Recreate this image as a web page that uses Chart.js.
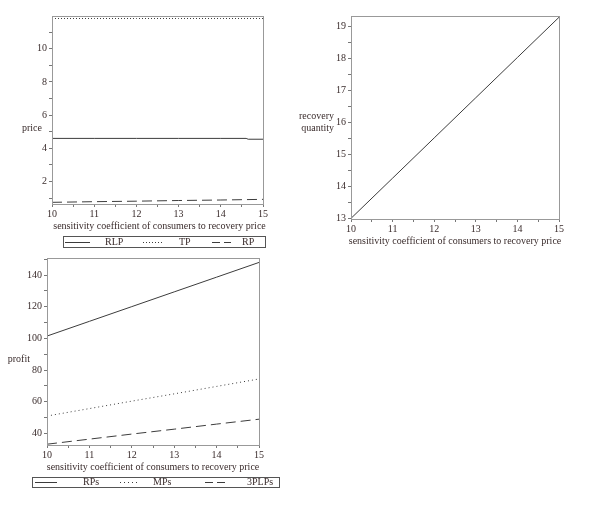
<!DOCTYPE html>
<html>
<head>
<meta charset="utf-8">
<script src="https://cdn.jsdelivr.net/npm/chart.js@4"></script>
<style>
body { margin: 0; background: #fff; width: 608px; height: 505px; position: relative; overflow: hidden; }
canvas { position: absolute; }
</style>
</head>
<body>
<canvas id="c1" width="290" height="250" style="left:0;top:0"></canvas>
<canvas id="c2" width="300" height="250" style="left:290px;top:0"></canvas>
<canvas id="c3" width="290" height="250" style="left:0;top:250px"></canvas>
<script>
// x values (sensitivity coefficient)
const xs = [10, 11, 12, 13, 14, 15];

// chart 1: prices
const rlpX = [10, 11, 12, 13, 14, 14.6, 14.65, 15];
const rlp = [4.6, 4.6, 4.6, 4.6, 4.6, 4.6, 4.55, 4.55];
const tp = [11.82, 11.82, 11.82, 11.82, 11.82, 11.82];
const rp = [0.75, 0.79, 0.82, 0.86, 0.89, 0.93];

// chart 2: recovery quantity
const quantity = [13.0, 14.26, 15.52, 16.78, 18.04, 19.3];

// chart 3: profits
const rps = [101.5, 110.8, 120.1, 129.4, 138.7, 148.0];
const mps = [51.0, 55.7, 60.4, 65.0, 69.7, 74.4];
const tplps = [33.2, 36.4, 39.6, 42.7, 45.9, 49.0];

const xTitle = 'sensitivity coefficient of consumers to recovery price';
const textColor = '#3a2c2c';
const lineColor = '#3c3c3c';
const FONT = '10px "Liberation Serif"';

Chart.defaults.font.family = '"Liberation Serif"';
Chart.defaults.font.size = 10;
Chart.defaults.color = textColor;

function pts(x, y) {
    return y.map((v, i) => ({ x: x[i], y: v }));
}

// frame, titles and boxed legend
const extras = {
    id: 'extras',
    afterDraw(chart, args, opts) {
        const ctx = chart.ctx;
        const a = chart.chartArea;
        ctx.save();
        ctx.strokeStyle = '#999';
        ctx.lineWidth = 1;
        ctx.strokeRect(Math.round(a.left) + 0.5, Math.round(a.top) + 0.5, Math.round(a.right - a.left), Math.round(a.bottom - a.top));

        ctx.fillStyle = textColor;
        ctx.font = FONT;
        ctx.textBaseline = 'middle';
        ctx.textAlign = 'center';
        ctx.fillText(xTitle, (a.left + a.right) / 2 + opts.xTitleDx, opts.xTitleY);

        ctx.textAlign = 'right';
        opts.yTitle.forEach((t, i) => ctx.fillText(t, opts.yTitleX, opts.yTitleY + i * 12));

        if (opts.legend) {
            const L = opts.legend;
            ctx.strokeStyle = '#555';
            ctx.strokeRect(L.x + 0.5, L.y + 0.5, L.w, L.h);
            const cy = Math.round(L.y + L.h / 2) + 0.5;
            chart.data.datasets.forEach((ds, i) => {
                const it = L.items[i];
                ctx.strokeStyle = lineColor;
                ctx.setLineDash(ds.borderDash ? (ds.borderDash[0] > 2 ? [8, 4] : ds.borderDash) : []);
                ctx.beginPath();
                ctx.moveTo(it[0], cy);
                ctx.lineTo(it[1], cy);
                ctx.stroke();
                ctx.setLineDash([]);
                ctx.textAlign = 'left';
                ctx.fillText(ds.label, it[2], cy);
            });
        }
        ctx.restore();
    }
};

function makeChart(id, datasets, cfg) {
    return new Chart(document.getElementById(id), {
        type: 'line',
        data: { datasets: datasets },
        options: {
            responsive: false,
            animation: false,
            layout: { padding: cfg.padding },
            elements: { point: { radius: 0 }, line: { borderWidth: 1, tension: 0 } },
            plugins: {
                legend: { display: false },
                tooltip: { enabled: false },
                extras: cfg.extras
            },
            scales: {
                x: {
                    type: 'linear',
                    min: 10,
                    max: 15,
                    afterFit: s => { s.height = cfg.xHeight; },
                    grid: { drawOnChartArea: false, tickLength: 3, tickColor: '#777' },
                    border: { color: '#999' },
                    ticks: {
                        stepSize: 0.5,
                        autoSkip: false,
                        maxRotation: 0,
                        padding: 1,
                        includeBounds: false,
                        callback: v => Number.isInteger(v) ? v : ''
                    }
                },
                y: {
                    type: 'linear',
                    min: cfg.yMin,
                    max: cfg.yMax,
                    afterFit: s => { s.width = cfg.yWidth; },
                    grid: { drawOnChartArea: false, tickLength: 3, tickColor: '#777' },
                    border: { color: '#999' },
                    ticks: {
                        stepSize: cfg.yStep,
                        autoSkip: false,
                        padding: 2,
                        includeBounds: false,
                        callback: v => (Math.round(v / cfg.yLabelStep * 1000) % 1000 === 0) ? v : ''
                    }
                }
            }
        },
        plugins: [extras]
    });
}

makeChart('c1', [
    { label: 'RLP', data: pts(rlpX, rlp), borderColor: lineColor },
    { label: 'TP', data: pts(xs, tp), borderColor: lineColor, borderDash: [1, 2] },
    { label: 'RP', data: pts(xs, rp), borderColor: lineColor, borderDash: [10, 5] }
], {
    padding: { left: 0, right: 27, top: 16, bottom: 0 },
    xHeight: 46, yWidth: 52,
    yMin: 0.65, yMax: 11.97, yStep: 1, yLabelStep: 2,
    extras: {
        xTitleDx: 2, xTitleY: 226,
        yTitle: ['price'], yTitleX: 42, yTitleY: 128,
        legend: { x: 63, y: 236, w: 202, h: 11, items: [[65, 90, 105], [143, 163, 179], [212, 231, 242]] }
    }
});

makeChart('c2', [
    { label: 'recovery quantity', data: pts(xs, quantity), borderColor: lineColor }
], {
    padding: { left: 0, right: 31, top: 16, bottom: 0 },
    xHeight: 31, yWidth: 61,
    yMin: 12.98, yMax: 19.34, yStep: 0.5, yLabelStep: 1,
    extras: {
        xTitleDx: 0, xTitleY: 241,
        yTitle: ['recovery', 'quantity'], yTitleX: 44, yTitleY: 116
    }
});

makeChart('c3', [
    { label: 'RPs', data: pts(xs, rps), borderColor: lineColor },
    { label: 'MPs', data: pts(xs, mps), borderColor: lineColor, borderDash: [1, 3] },
    { label: '3PLPs', data: pts(xs, tplps), borderColor: lineColor, borderDash: [10, 5] }
], {
    padding: { left: 0, right: 31, top: 6, bottom: 0 },
    xHeight: 55, yWidth: 47,
    yMin: 32.7, yMax: 150.8, yStep: 10, yLabelStep: 20,
    extras: {
        xTitleDx: 0, xTitleY: 217,
        yTitle: ['profit'], yTitleX: 30, yTitleY: 109,
        legend: { x: 32, y: 227, w: 247, h: 10, items: [[35, 57, 83], [120, 140, 153], [205, 228, 247]] }
    }
});
</script>
</body>
</html>
